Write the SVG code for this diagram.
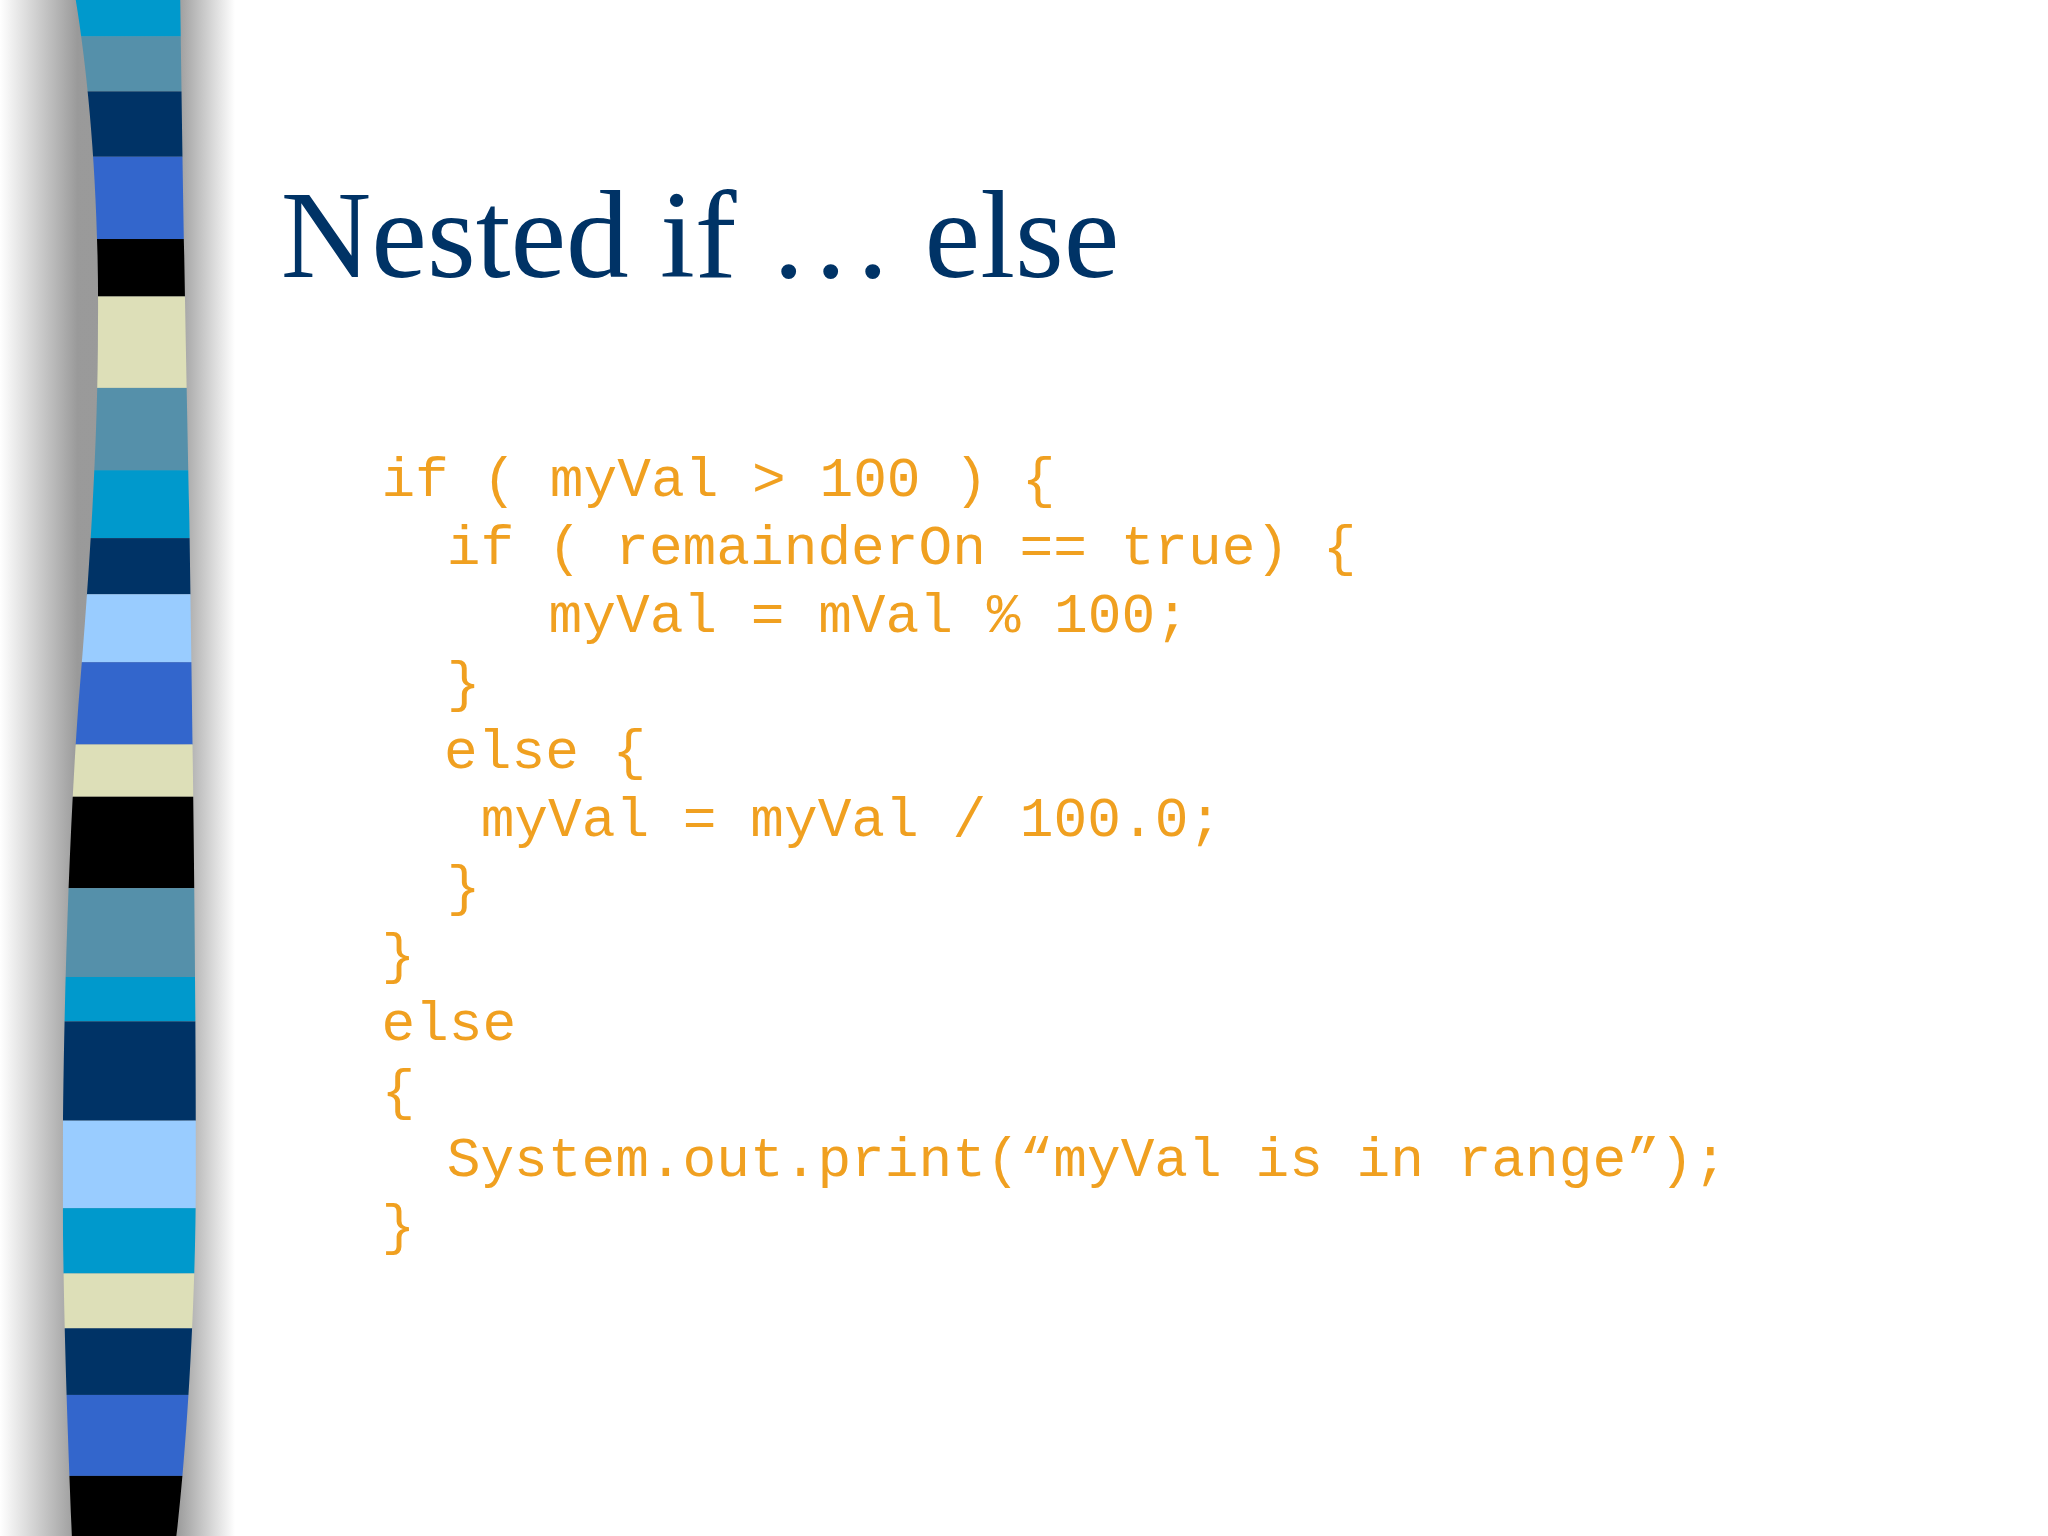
<svg xmlns="http://www.w3.org/2000/svg" width="2048" height="1536" viewBox="0 0 2048 1536">
<defs>
<linearGradient id="sh" x1="0" y1="0" x2="1" y2="0">
<stop offset="0" stop-color="#ffffff"/>
<stop offset="0.33" stop-color="#888888"/>
<stop offset="0.75" stop-color="#888888"/>
<stop offset="1" stop-color="#ffffff"/>
</linearGradient>
<clipPath id="cp"><path d="M58,0 C68,60 76,150 75,250 C75,330 70,420 60,540 C52,650 48,800 48,900 C48,1000 52,1100 55,1176 L135,1176 C142,1120 150,1000 150,900 C150,750 148,600 145,400 C142,250 140,150 138,0 Z"/></clipPath>
<style>
.c{font-family:"Liberation Mono","Courier New",monospace;font-size:43px;fill:#f0a020}
</style>
</defs>
<rect width="2048" height="1536" fill="#ffffff"/>
<g transform="scale(1.30612)">
<g id="shadow"><rect x="0" y="0" width="180" height="1176" fill="url(#sh)" opacity="0.85"/></g>
<g id="stripes" clip-path="url(#cp)">
<rect x="0" y="0" width="200" height="28" fill="#0099cc"/>
<rect x="0" y="28" width="200" height="42" fill="#5590aa"/>
<rect x="0" y="70" width="200" height="50" fill="#003366"/>
<rect x="0" y="120" width="200" height="63" fill="#3366cc"/>
<rect x="0" y="183" width="200" height="44" fill="#000000"/>
<rect x="0" y="227" width="200" height="70" fill="#dddfb8"/>
<rect x="0" y="297" width="200" height="63" fill="#5590aa"/>
<rect x="0" y="360" width="200" height="52" fill="#0099cc"/>
<rect x="0" y="412" width="200" height="43" fill="#003366"/>
<rect x="0" y="455" width="200" height="52" fill="#99ccff"/>
<rect x="0" y="507" width="200" height="63" fill="#3366cc"/>
<rect x="0" y="570" width="200" height="40" fill="#dddfb8"/>
<rect x="0" y="610" width="200" height="70" fill="#000000"/>
<rect x="0" y="680" width="200" height="68" fill="#5590aa"/>
<rect x="0" y="748" width="200" height="34" fill="#0099cc"/>
<rect x="0" y="782" width="200" height="76" fill="#003366"/>
<rect x="0" y="858" width="200" height="67" fill="#99ccff"/>
<rect x="0" y="925" width="200" height="50" fill="#0099cc"/>
<rect x="0" y="975" width="200" height="42" fill="#dddfb8"/>
<rect x="0" y="1017" width="200" height="51" fill="#003366"/>
<rect x="0" y="1068" width="200" height="62" fill="#3366cc"/>
<rect x="0" y="1130" width="200" height="46" fill="#000000"/>
</g>
<g id="title"><text x="215" y="212" font-family="Liberation Serif,'Times New Roman',serif" font-size="96" fill="#003366" textLength="642">Nested if … else</text></g>
<g id="code">
<text class="c" x="292" y="380" xml:space="preserve">if ( myVal &gt; 100 ) {</text>
<text class="c" x="342" y="432" xml:space="preserve">if ( remainderOn == true) {</text>
<text class="c" x="420" y="484" xml:space="preserve">myVal = mVal % 100;</text>
<text class="c" x="342" y="536">}</text>
<text class="c" x="340" y="588" xml:space="preserve">else {</text>
<text class="c" x="368" y="640" xml:space="preserve">myVal = myVal / 100.0;</text>
<text class="c" x="342" y="692">}</text>
<text class="c" x="292" y="744">}</text>
<text class="c" x="292" y="796">else</text>
<text class="c" x="292" y="848">{</text>
<text class="c" x="342" y="900" xml:space="preserve">System.out.print(“myVal is in range”);</text>
<text class="c" x="292" y="952">}</text>
</g>
</g>
</svg>
